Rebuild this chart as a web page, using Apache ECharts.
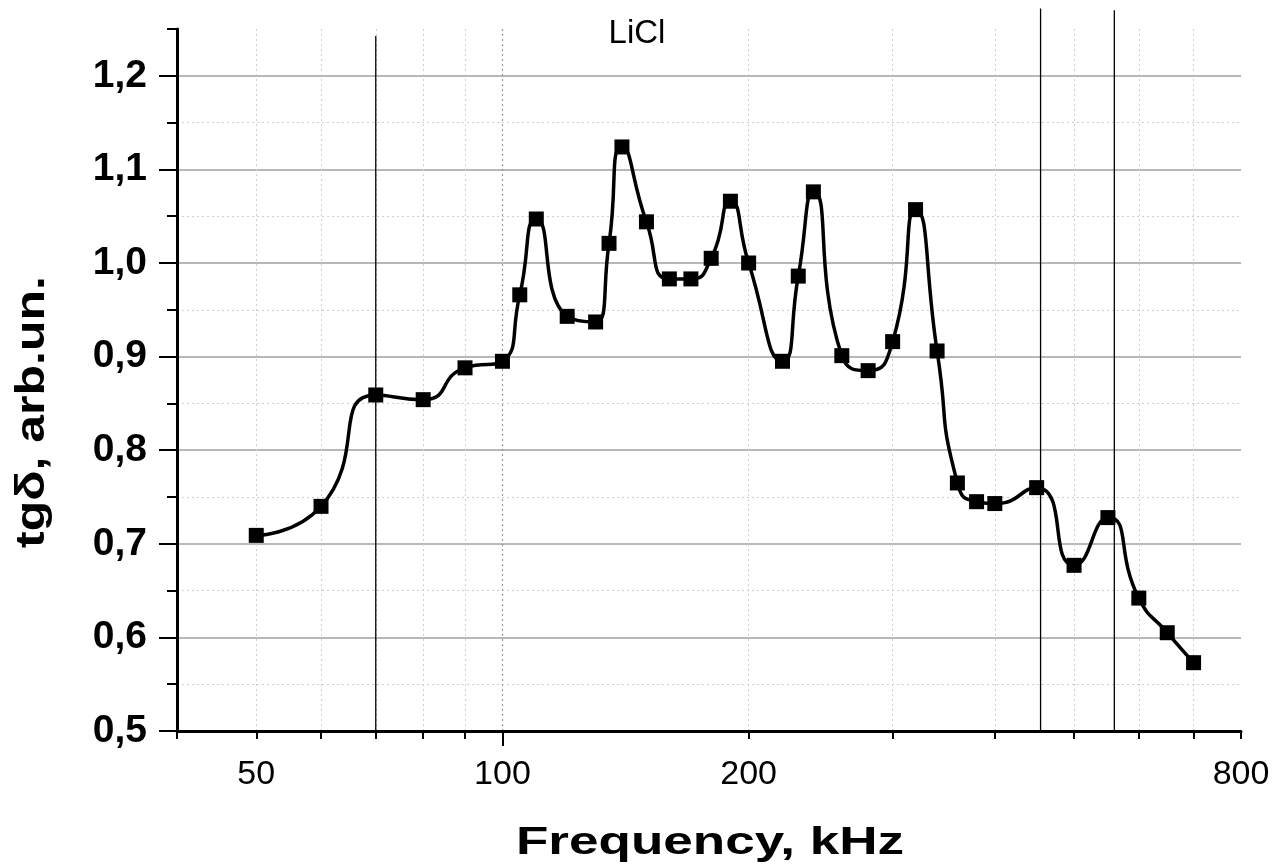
<!DOCTYPE html>
<html>
<head>
<meta charset="utf-8">
<title>LiCl tgδ vs frequency</title>
<script src="https://cdn.jsdelivr.net/npm/echarts@6/dist/echarts.min.js"></script>
<style>
  html, body { margin: 0; padding: 0; background: #fff; }
  #chart { width: 1280px; height: 864px; }
</style>
</head>
<body>
<div id="chart"></div>
<script>
// Measured loss tangent of LiCl against frequency (kHz)
const frequency = [50, 60, 70, 80, 90, 100, 105, 110, 120, 130, 135, 140, 150, 160, 170, 180, 190, 200,
  220, 230, 240, 260, 280, 300, 320, 340, 360, 380, 400, 450, 500, 550, 600, 650, 700];
const tgDelta = [0.709, 0.740, 0.859, 0.854, 0.888, 0.895, 0.966, 1.047, 0.943, 0.937, 1.021, 1.124, 1.044,
  0.983, 0.983, 1.005, 1.066, 1.000, 0.895, 0.986, 1.076, 0.901, 0.885, 0.916, 1.057, 0.906, 0.765,
  0.745, 0.743, 0.760, 0.677, 0.728, 0.642, 0.605, 0.573];

// Vertical reference lines: frequency and the height they reach
const refLineFreq = [70, 455, 560];
const refLineTop = [1.2425, 1.272, 1.270];

// Axis ticks and labels
const xLabelValues = [50, 100, 200, 800];
const xMajorTicks = [100];
const xMinorTicks = [40, 50, 60, 70, 80, 90, 200, 300, 400, 500, 600, 700, 800];
const yMajorTicks = [0.5, 0.6, 0.7, 0.8, 0.9, 1.0, 1.1, 1.2];
const yMinorTicks = [0.55, 0.65, 0.75, 0.85, 0.95, 1.05, 1.15, 1.25];

const FONT = 'Liberation Sans, Arial, sans-serif';

const points = frequency.map((f, i) => [f, tgDelta[i]]);

const refSeries = refLineFreq.map((f, i) => ({
  type: 'line',
  data: [[f, 0.5], [f, refLineTop[i]]],
  showSymbol: false,
  symbol: 'none',
  clip: false,
  silent: true,
  z: 2,
  lineStyle: { color: '#000', width: 1.3 }
}));

const xBase = {
  type: 'log',
  logBase: 10,
  min: 40,
  max: 800,
  position: 'bottom',
  axisLine: { show: false },
  axisLabel: { show: false },
  axisTick: { show: false },
  splitLine: { show: false }
};

const yBase = {
  type: 'value',
  min: 0.5,
  max: 1.25,
  position: 'left',
  axisLine: { show: false },
  axisLabel: { show: false },
  axisTick: { show: false },
  splitLine: { show: false }
};

const chart = echarts.init(document.getElementById('chart'), null, { renderer: 'canvas' });

chart.setOption({
  animation: false,
  backgroundColor: '#fff',
  grid: { left: 177, right: 39, top: 29, bottom: 133, containLabel: false, outerBoundsMode: 'none' },
  xAxis: [
    Object.assign({}, xBase, {
      axisLine: { show: true, onZero: false, lineStyle: { color: '#000', width: 3 } },
      axisTick: { show: true, customValues: xMinorTicks, length: 8, lineStyle: { color: '#000', width: 2 } },
      axisLabel: {
        show: true, customValues: xLabelValues, margin: 27,
        color: '#000', fontSize: 34, fontFamily: FONT,
        formatter: v => String(Math.round(v))
      },
      splitLine: {
        show: true, showMinLine: false, showMaxLine: false,
        lineStyle: { color: '#cfcfcf', width: 1, type: [2, 3] }
      }
    }),
    Object.assign({}, xBase, {
      axisTick: { show: true, customValues: xMajorTicks, length: 15, lineStyle: { color: '#000', width: 2 } },
      splitLine: { show: true, lineStyle: { color: '#9a9a9a', width: 1.2, type: [2, 3] } }
    })
  ],
  yAxis: [
    Object.assign({}, yBase, {
      axisLine: { show: true, onZero: false, lineStyle: { color: '#000', width: 3 } },
      axisTick: { show: true, customValues: yMajorTicks, length: 18, lineStyle: { color: '#000', width: 2 } },
      axisLabel: {
        show: true, customValues: yMajorTicks, margin: 30,
        color: '#000', fontSize: 39, fontWeight: 'bold', fontFamily: FONT,
        formatter: v => v.toFixed(1).replace('.', ',')
      },
      splitLine: {
        show: true, showMinLine: false,
        lineStyle: { color: '#a0a0a0', width: 1.5 }
      }
    }),
    Object.assign({}, yBase, {
      axisTick: { show: true, customValues: yMinorTicks, length: 10, lineStyle: { color: '#000', width: 2 } },
      splitLine: {
        show: true, showMaxLine: false,
        lineStyle: { color: '#cfcfcf', width: 1, type: [2, 3] }
      }
    })
  ],
  graphic: [
    {
      type: 'text', x: 637, y: 34, silent: true,
      style: { text: 'LiCl', fill: '#000', fontSize: 33, fontFamily: FONT, align: 'center', verticalAlign: 'middle' }
    },
    {
      type: 'text', x: 710, y: 843, scaleX: 1.36, silent: true,
      style: { text: 'Frequency, kHz', fill: '#000', fontSize: 39, fontWeight: 'bold', fontFamily: FONT, align: 'center', verticalAlign: 'middle' }
    },
    {
      type: 'text', x: 33, y: 412, rotation: Math.PI / 2, scaleX: 1.25, silent: true,
      style: { text: 'tgδ, arb.un.', fill: '#000', fontSize: 40, fontWeight: 'bold', fontFamily: FONT, align: 'center', verticalAlign: 'middle' }
    }
  ],
  series: refSeries.concat([
    {
      type: 'line',
      name: 'LiCl',
      data: points,
      smooth: 0.6,
      symbol: 'rect',
      symbolSize: 15,
      showAllSymbol: true,
      z: 3,
      lineStyle: { color: '#000', width: 3.5 },
      itemStyle: { color: '#000' }
    }
  ])
});
</script>
</body>
</html>
